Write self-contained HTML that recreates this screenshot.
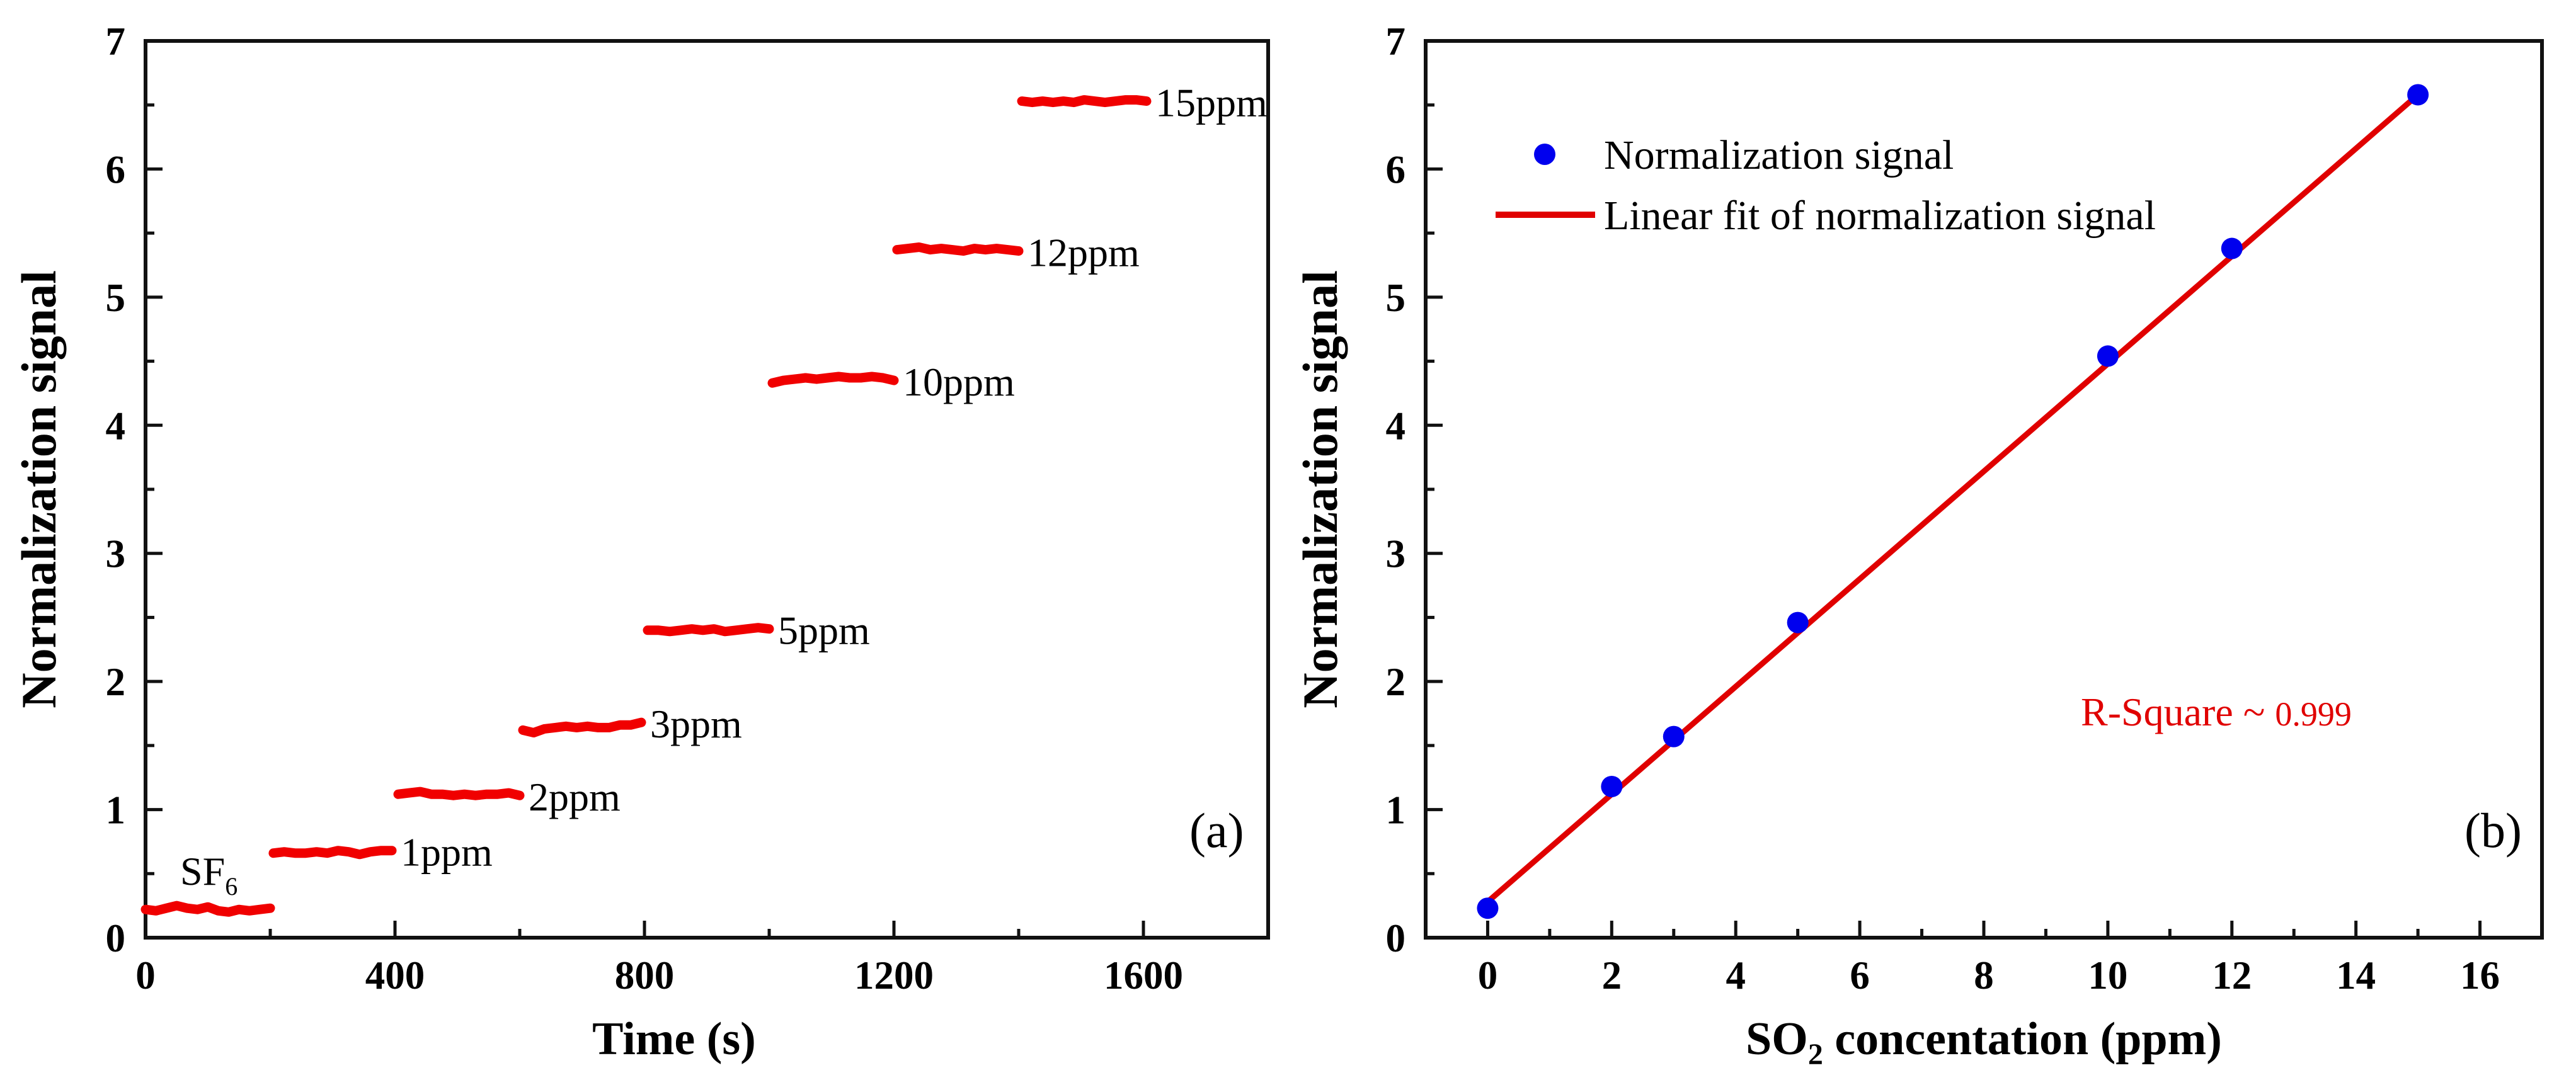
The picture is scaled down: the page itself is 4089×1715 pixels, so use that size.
<!DOCTYPE html>
<html><head><meta charset="utf-8"><style>
html,body{margin:0;padding:0;background:#fff;}
svg{display:block;font-family:"Liberation Serif",serif;}
</style></head><body>
<svg id="chart" width="4089" height="1715" viewBox="0 0 4089 1715" xmlns="http://www.w3.org/2000/svg">
<g id="pa"></g>
<g id="pb"></g>
</svg>
<script>
// Panel (a) data
const segStarts = [0, 205, 405, 605, 805, 1005, 1205, 1405];
const segLabels = ["", "1ppm", "2ppm", "3ppm", "5ppm", "10ppm", "12ppm", "15ppm"];
const segSF6 = [0.22, 0.21, 0.23, 0.25, 0.23, 0.22, 0.24, 0.21, 0.20, 0.22, 0.21, 0.22, 0.23];
const seg1 = [0.66, 0.67, 0.66, 0.66, 0.67, 0.66, 0.68, 0.67, 0.65, 0.67, 0.68, 0.68];
const seg2 = [1.12, 1.13, 1.14, 1.12, 1.12, 1.11, 1.12, 1.11, 1.12, 1.12, 1.13, 1.11];
const seg3 = [1.62, 1.60, 1.63, 1.64, 1.65, 1.64, 1.65, 1.64, 1.64, 1.66, 1.66, 1.68];
const seg5 = [2.40, 2.40, 2.39, 2.40, 2.41, 2.40, 2.41, 2.39, 2.40, 2.41, 2.42, 2.41];
const seg10 = [4.33, 4.35, 4.36, 4.37, 4.36, 4.37, 4.38, 4.37, 4.37, 4.38, 4.37, 4.35];
const seg12 = [5.37, 5.38, 5.39, 5.37, 5.38, 5.37, 5.36, 5.38, 5.37, 5.38, 5.37, 5.36];
const seg15 = [6.53, 6.52, 6.53, 6.52, 6.53, 6.52, 6.54, 6.53, 6.52, 6.53, 6.54, 6.54, 6.53];
const segDurations = [200, 190, 195, 190, 195, 195, 195, 200];
const xTicksA = [0, 400, 800, 1200, 1600];
const yTicks = [0, 1, 2, 3, 4, 5, 6, 7];
// Panel (b) data
const concs = [0, 2, 3, 5, 10, 12, 15];
const signals = [0.23, 1.18, 1.57, 2.46, 4.54, 5.38, 6.58];
const fitIntercept = 0.28;
const fitSlope = 0.42;
const xTicksB = [0, 2, 4, 6, 8, 10, 12, 14, 16];

const NS = "http://www.w3.org/2000/svg";
function mk(parent, tag, attrs, text) {
  const e = document.createElementNS(NS, tag);
  for (const k in attrs) e.setAttribute(k, attrs[k]);
  if (text !== undefined) e.textContent = text;
  parent.appendChild(e);
  return e;
}
const TOP = 65, BOT = 1489;
const yS = v => BOT - (v / 7) * (BOT - TOP);

function axes(g, L, R, xs, xMin, xMax, majors, minorStep, fmt) {
  const box = mk(g, "rect", {x: L, y: TOP, width: R - L, height: BOT - TOP, fill: "none", stroke: "#111", "stroke-width": 6});
  
  
  for (let v = xMin; v <= xMax + 1e-9; v += minorStep) {
    const isMaj = majors.some(m => Math.abs(m - v) < 1e-9);
    const t = mk(g, "line", {x1: xs(v), x2: xs(v), y1: BOT, y2: BOT - (isMaj ? 27 : 14), stroke: "#111", "stroke-width": 5});
    
    
  }
  majors.forEach(m => {
    const t = mk(g, "text", {x: xs(m), y: 1570, "font-size": 63, "font-weight": "bold", "text-anchor": "middle"}, fmt(m));
    
    
  });
  for (let v = 0; v <= 7; v += 0.5) {
    const isMaj = Math.abs(v - Math.round(v)) < 1e-9;
    const t = mk(g, "line", {x1: L, x2: L + (isMaj ? 27 : 14), y1: yS(v), y2: yS(v), stroke: "#111", "stroke-width": 5});
    
    
  }
  yTicks.forEach(m => {
    const t = mk(g, "text", {x: L - 32, y: yS(m) + 22, "font-size": 63, "font-weight": "bold", "text-anchor": "end"}, String(m));
    
    
  });
}

// ---- Panel a
const ga = document.getElementById("pa");
const LA = 231, RA = 2013;
const xA = v => LA + (v / 1800) * (RA - LA);
axes(ga, LA, RA, xA, 0, 1800, xTicksA, 200, String);
const segs = [segSF6, seg1, seg2, seg3, seg5, seg10, seg12, seg15];
segs.forEach((vals, i) => {
  const s = segStarts[i], d = segDurations[i];
  const pts = vals.map((v, j) => xA(s + d * j / (vals.length - 1)).toFixed(1) + "," + yS(v).toFixed(1)).join(" ");
  const pl = mk(ga, "polyline", {points: pts, fill: "none", stroke: "#f00000", "stroke-width": 15, "stroke-linecap": "round", "stroke-linejoin": "round"});
  
  
  if (segLabels[i]) {
    const last = vals[vals.length - 1];
    const t = mk(ga, "text", {x: xA(s + d) + 14, y: yS(last) + 24, "font-size": 64}, segLabels[i]);
    
    
  }
});
const sf = mk(ga, "text", {x: 286, y: 1405, "font-size": 64}, "SF");


mk(sf, "tspan", {dy: 16, "font-size": 40}, "6");
const la = mk(ga, "text", {x: 1888, y: 1345, "font-size": 78}, "(a)");


const xta = mk(ga, "text", {x: 1070, y: 1674, "font-size": 74, "font-weight": "bold", "text-anchor": "middle"}, "Time (s)");


const yta = mk(ga, "text", {x: 0, y: 0, "font-size": 78, "font-weight": "bold", "text-anchor": "middle", transform: "translate(88,777) rotate(-90)"}, "Normalization signal");



// ---- Panel b
const gb = document.getElementById("pb");
const LB = 2263, RB = 4035;
const xB = v => LB + ((v + 1) / 18) * (RB - LB);
axes(gb, LB, RB, xB, -1, 17, xTicksB, 1, String);
const fit = mk(gb, "line", {x1: xB(0), y1: yS(fitIntercept), x2: xB(15), y2: yS(fitIntercept + fitSlope * 15), stroke: "#e00000", "stroke-width": 9});


concs.forEach((c, i) => {
  const p = mk(gb, "circle", {cx: xB(c), cy: yS(signals[i]), r: 17, fill: "#0000ee"});
  
  
});
const lg1 = mk(gb, "circle", {cx: 2452, cy: 245, r: 17, fill: "#0000ee"});


const lt1 = mk(gb, "text", {x: 2546, y: 268, "font-size": 66}, "Normalization signal");


const lg2 = mk(gb, "line", {x1: 2374, x2: 2532, y1: 341, y2: 341, stroke: "#e00000", "stroke-width": 10});


const lt2 = mk(gb, "text", {x: 2546, y: 364, "font-size": 66}, "Linear fit of normalization signal");


const rs = mk(gb, "text", {x: 3303, y: 1152, "font-size": 64, fill: "#e00000"}, "R-Square ~ ");


mk(rs, "tspan", {"font-size": 54}, "0.999");
const lb = mk(gb, "text", {x: 3912, y: 1345, "font-size": 78}, "(b)");


const xtb = mk(gb, "text", {x: (LB + RB) / 2, y: 1674, "font-size": 74, "font-weight": "bold", "text-anchor": "middle"}, "SO");


mk(xtb, "tspan", {dy: 16, "font-size": 48}, "2");
mk(xtb, "tspan", {dy: -16}, " concentation (ppm)");
const ytb = mk(gb, "text", {x: 0, y: 0, "font-size": 78, "font-weight": "bold", "text-anchor": "middle", transform: "translate(2122,777) rotate(-90)"}, "Normalization signal");


</script>
</body></html>
